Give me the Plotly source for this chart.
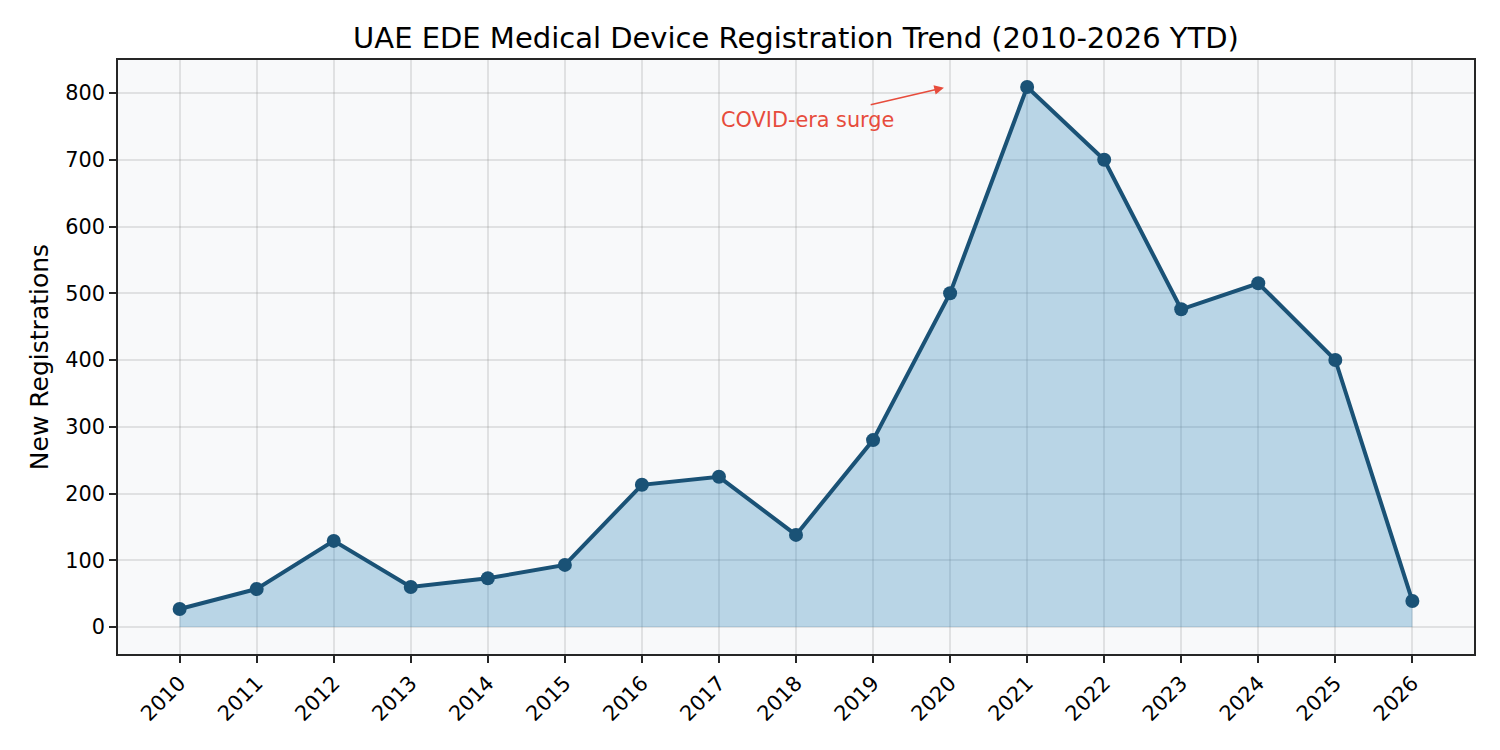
import plotly.graph_objects as go

years = list(range(2010, 2027))
registrations = [27, 57, 129, 60, 73, 93, 213, 225, 138, 280, 500, 809, 700, 476, 515, 400, 39]
tick_labels = [str(y) for y in years]

title_text = "UAE EDE Medical Device Registration Trend (2010-2026 YTD)"
y_title = "New Registrations"
annot_text = "COVID-era surge"

LINE = "#1a5276"
FILL = "rgba(41,128,185,0.3)"
BG = "#f8f9fa"
FONT = "DejaVu Sans"

fig = go.Figure()
fig.add_trace(go.Scatter(
    x=years, y=registrations, mode="lines+markers",
    line=dict(color=LINE, width=4),
    marker=dict(color=LINE, size=14),
    fill="tozeroy", fillcolor=FILL,
    showlegend=False, hoverinfo="x+y",
))

# arrow for annotation
fig.add_annotation(
    x=2019.92, y=808, ax=2018.95, ay=782,
    xref="x", yref="y", axref="x", ayref="y",
    text="", showarrow=True, arrowhead=2, arrowsize=1.2, arrowwidth=1.6,
    arrowcolor="#e74c3c",
)
fig.add_annotation(
    x=2017, y=759, xref="x", yref="y", text=annot_text, showarrow=False,
    xanchor="left", yanchor="middle",
    font=dict(family=FONT, size=20.8, color="#e74c3c"),
)

axis_common = dict(
    showline=True, linecolor="#262626", linewidth=1.7, mirror=True,
    ticks="outside", ticklen=7, tickwidth=1.6, tickcolor="#262626",
    showgrid=True, gridcolor="rgba(128,128,128,0.2)", gridwidth=1.6,
    zeroline=False,
    tickfont=dict(family=FONT, size=20.8, color="#000000"),
)

fig.update_layout(
    width=1500, height=750,
    margin=dict(l=118, r=26, t=60, b=96),
    paper_bgcolor="white", plot_bgcolor=BG,
    font=dict(family=FONT, color="#000000"),
    title=dict(text=title_text, x=0.5, xref="paper", y=1 - 38 / 750,
               yref="container", xanchor="center", yanchor="middle",
               font=dict(family=FONT, size=29, color="#000000")),
    xaxis=dict(range=[2009.2, 2026.8], tickmode="array", tickvals=years,
               ticktext=tick_labels, tickangle=-45, **axis_common),
    yaxis=dict(range=[-40.45, 849.45], tickmode="array",
               tickvals=[0, 100, 200, 300, 400, 500, 600, 700, 800],
               title=dict(text=y_title, font=dict(family=FONT, size=25),
                          standoff=10),
               **axis_common),
)

fig.write_html("out.html")
